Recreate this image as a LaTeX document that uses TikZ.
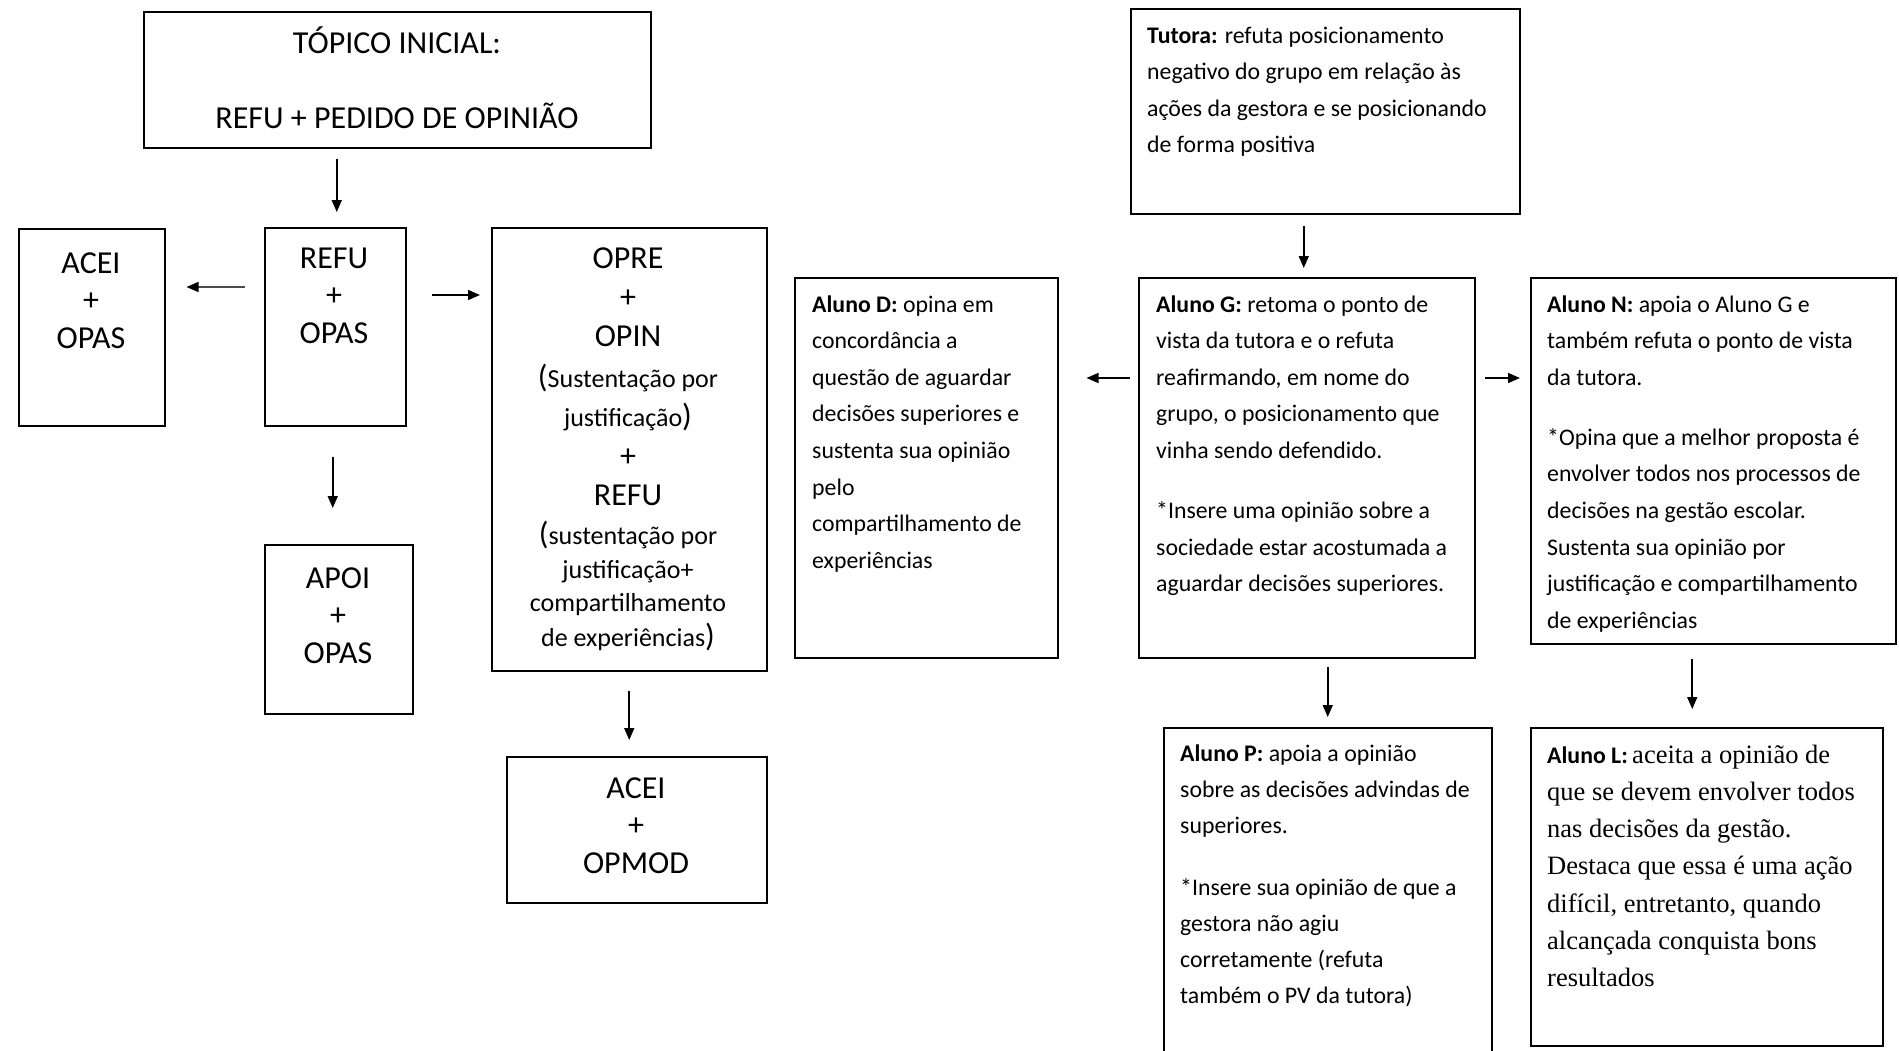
\documentclass[tikz,border=0pt]{standalone}
\usepackage{fontspec}
\setmainfont{Carlito}
\newfontfamily\serifL{Liberation Serif}
\usetikzlibrary{arrows.meta,calc}
\newcommand\ltab[1]{\fontsize{32}{37.5}\selectfont\begin{tabular}[t]{@{}c@{}}#1\end{tabular}}
\newcommand\rtab[1]{\fontsize{23.8}{36.6}\selectfont\begin{tabular}[t]{@{}l@{}}#1\end{tabular}}
\newcommand\smtxt[1]{{\fontsize{26}{30}\selectfont #1}}
\begin{document}
\begin{tikzpicture}[x=1pt,y=-1pt,
  box/.style={draw, line width=1.5pt, inner sep=0pt, anchor=north west},
  txt/.style={inner sep=0pt},
  arr/.style={line width=1.6pt, -{Triangle[length=12pt,width=10pt]}}]
\useasboundingbox (0,0) rectangle (1899,1050);
\clip (0,0) rectangle (1899,1050);
\fill[white] (0,0) rectangle (1899,1050);

% ---- boxes (left part)
\node[box, minimum width=507pt, minimum height=136pt] (top) at (143,11) {};
\node[box, minimum width=146pt, minimum height=197pt] (acei) at (18,228) {};
\node[box, minimum width=141pt, minimum height=198pt] (refu) at (264,227) {};
\node[box, minimum width=275pt, minimum height=443pt] (opre) at (491,227) {};
\node[box, minimum width=148pt, minimum height=169pt] (apoi) at (264,544) {};
\node[box, minimum width=260pt, minimum height=146pt] (opmod) at (506,756) {};

% ---- boxes (right part)
\node[box, minimum width=389pt, minimum height=205pt] (tut) at (1130,8) {};
\node[box, minimum width=263pt, minimum height=380pt] (alD) at (794,277) {};
\node[box, minimum width=336pt, minimum height=380pt] (alG) at (1138,277) {};
\node[box, minimum width=365pt, minimum height=366pt] (alN) at (1530,277) {};
\node[box, minimum width=328pt, minimum height=345pt] (alP) at (1163,727) {};
\node[box, minimum width=352pt, minimum height=318pt] (alL) at (1530,727) {};

% ---- texts (left part)
\node[txt, anchor=base] (topT) at (397,53) {\ltab{TÓPICO INICIAL:\\ \\ REFU + PEDIDO DE OPINIÃO}};
\node[txt, anchor=base] (aceiT) at (91,273) {\ltab{ACEI\\ +\\ OPAS}};
\node[txt, anchor=base] (refuT) at (334,268) {\ltab{REFU\\ +\\ OPAS}};
\node[txt, anchor=base] (apoiT) at (338,588) {\ltab{APOI\\ +\\ OPAS}};
\node[txt, anchor=base] (opmodT) at (636,798) {\ltab{ACEI\\ +\\ OPMOD}};
\node[txt, anchor=base] (opreT) at (628,268) {\fontsize{32}{39.3}\selectfont
  \begin{tabular}[t]{@{}c@{}}OPRE\\ +\\ OPIN\\[1.5pt]
  (\smtxt{Sustentação por}\\ \smtxt{justificação})\\ +\\ REFU\\
  (\smtxt{sustentação por}\\[-5.5pt] \smtxt{justificação+}\\[-6pt]
  \smtxt{compartilhamento}\\[-5pt] \smtxt{de experiências})\end{tabular}};

% ---- texts (right part)
\node[txt, anchor=base west] (tutT) at ($(tut.north west)+(17,35)$) {\rtab{%
  \textbf{Tutora:} refuta posicionamento\\
  negativo do grupo em relação às\\
  ações da gestora e se posicionando\\
  de forma positiva}};
\node[txt, anchor=base west] (alDT) at ($(alD.north west)+(18,35)$) {\rtab{%
  \textbf{Aluno D:} opina em\\
  concordância a\\
  questão de aguardar\\
  decisões superiores e\\
  sustenta sua opinião\\
  pelo\\
  compartilhamento de\\
  experiências}};
\node[txt, anchor=base west] (alGT) at ($(alG.north west)+(18,35)$) {\rtab{%
  \textbf{Aluno G:} retoma o ponto de\\
  vista da tutora e o refuta\\
  reafirmando, em nome do\\
  grupo, o posicionamento que\\
  vinha sendo defendido.\\[23.4pt]
  *Insere uma opinião sobre a\\
  sociedade estar acostumada a\\
  aguardar decisões superiores.}};
\node[txt, anchor=base west] (alNT) at ($(alN.north west)+(17,35)$) {\rtab{%
  \textbf{Aluno N:} apoia o Aluno G e\\
  também refuta o ponto de vista\\
  da tutora.\\[23.4pt]
  *Opina que a melhor proposta é\\
  envolver todos nos processos de\\
  decisões na gestão escolar.\\
  Sustenta sua opinião por\\
  justificação e compartilhamento\\
  de experiências}};
\node[txt, anchor=base west] (alPT) at ($(alP.north west)+(17,34)$) {\fontsize{23.8}{36}\selectfont
  \begin{tabular}[t]{@{}l@{}}%
  \textbf{Aluno P:} apoia a opinião\\
  sobre as decisões advindas de\\
  superiores.\\[26pt]
  *Insere sua opinião de que a\\
  gestora não agiu\\
  corretamente (refuta\\
  também o PV da tutora)\end{tabular}};
\node[txt, anchor=base west] (alLT) at ($(alL.north west)+(17,36)$) {\fontsize{26.5}{37.3}\selectfont
  \begin{tabular}[t]{@{}l@{}}%
  {\fontsize{23.8}{30}\selectfont\textbf{Aluno L:}}\,{\serifL aceita a opinião de}\\
  {\serifL que se devem envolver todos}\\
  {\serifL nas decisões da gestão.}\\
  {\serifL Destaca que essa é uma ação}\\
  {\serifL difícil, entretanto, quando}\\
  {\serifL alcançada conquista bons}\\
  {\serifL resultados}\end{tabular}};

% ---- connectors (left part)
\draw[arr, shorten <=10pt, shorten >=15pt] ($(top.south -| refu.north)+(1.5,0)$) -- ($(refu.north)+(1.5,0)$);
\draw[arr, draw=gray!60!black, -{Triangle[length=12pt,width=10pt,color=black]}, shorten <=19pt, shorten >=21pt]
  ($(refu.north west)+(0,60)$) coordinate (la) -- (la -| acei.east);
\draw[arr, shorten <=25pt, shorten >=11pt] ($(refu.north east)+(0,68)$) coordinate (ra) -- (ra -| opre.west);
\draw[arr, shorten <=30pt, shorten >=36pt] ($(refu.south)+(-2.5,0)$) coordinate (da) -- (da |- apoi.north);
\draw[arr, shorten <=19pt, shorten >=16pt] (opre.south) -- (opre.south |- opmod.north);

% ---- connectors (right part)
\coordinate (ta) at ($(alG.north)+(-3,0)$);
\draw[arr, shorten <=11pt, shorten >=9pt] (ta |- tut.south) -- (ta);
\draw[arr, shorten <=8pt, shorten >=28pt] ($(alG.north west)+(0,101)$) coordinate (ga) -- (ga -| alD.east);
\draw[arr, shorten <=9pt, shorten >=10pt] ($(alG.north east)+(0,101)$) coordinate (gb) -- (gb -| alN.west);
\draw[arr, shorten <=8pt, shorten >=10pt] (alG.south -| alP.north) -- (alP.north);
\draw[arr, shorten <=14pt, shorten >=18pt] ($(alN.south)+(-21,0)$) coordinate (na) -- (na |- alL.north);
\end{tikzpicture}
\end{document}
